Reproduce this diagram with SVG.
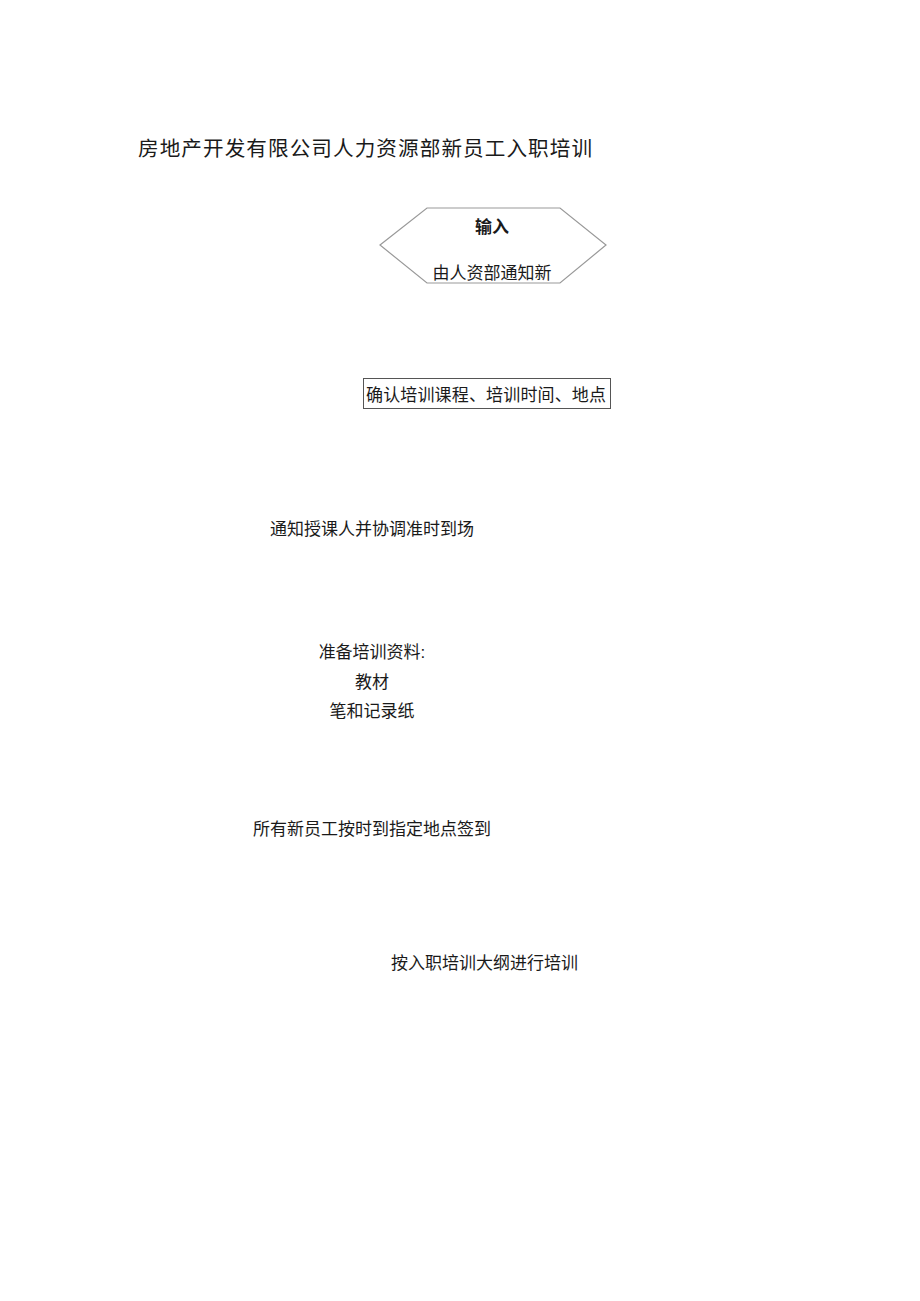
<svg xmlns="http://www.w3.org/2000/svg" width="920" height="1301" viewBox="0 0 920 1301">
<style>
.t{font-family:"Liberation Sans","Noto Sans CJK SC",sans-serif;font-size:17px;fill:#1a1a1a}
.c{text-anchor:middle}
.title{font-family:"Liberation Serif","Noto Sans CJK SC",serif;font-size:20.6px;fill:#1a1a1a}
</style>
<rect width="920" height="1301" fill="#fff"/>
<text class="title" x="138" y="156" textLength="454">房地产开发有限公司人力资源部新员工入职培训</text>
<g id="input">
<polygon points="380,245 427,208 560,208 606,245 560,283 427,283" fill="#fff" stroke="#999" stroke-width="1.2"/>
<text class="t c" x="492" y="233" font-weight="bold" font-size="16">输入</text>
<text class="t c" x="492" y="279" font-size="16.5">由人资部通知新</text>
</g>
<g id="confirm">
<rect x="363.5" y="378.5" width="247" height="30" fill="#fff" stroke="#555" stroke-width="1"/>
<text class="t" x="366" y="401" textLength="240">确认培训课程、培训时间、地点</text>
</g>
<g id="notify">
<text class="t" x="270" y="535" textLength="204">通知授课人并协调准时到场</text>
</g>
<g id="prepare">
<text class="t c" x="372" y="658">准备培训资料:</text>
<text class="t c" x="372" y="688">教材</text>
<text class="t c" x="372" y="717">笔和记录纸</text>
</g>
<g id="signin">
<text class="t" x="253" y="835" textLength="238">所有新员工按时到指定地点签到</text>
</g>
<g id="train">
<text class="t" x="391" y="969" textLength="187">按入职培训大纲进行培训</text>
</g>
<g id="connectors"></g>
</svg>
